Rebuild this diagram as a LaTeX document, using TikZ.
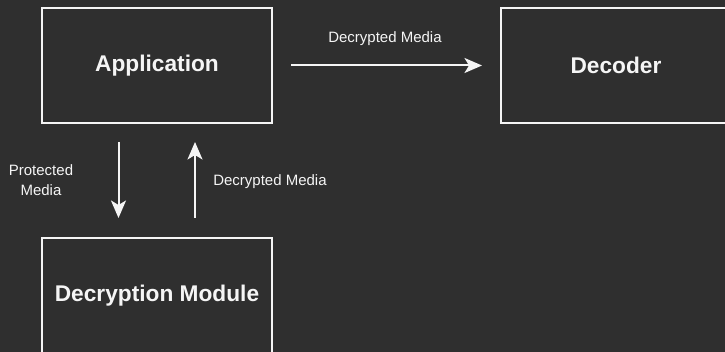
\documentclass[tikz,border=0pt]{standalone}
\usepackage{fontspec}
\setmainfont{Liberation Sans}
\usetikzlibrary{arrows.meta}
\definecolor{bgdark}{HTML}{2F2F2F}
\definecolor{fgwhite}{HTML}{F5F5F5}
\begin{document}
\begin{tikzpicture}[x=1pt,y=-1pt,inner sep=0pt,outer sep=0pt,line width=2pt,
block/.style={draw=fgwhite,rectangle,minimum width=230pt,minimum height=115pt,text=fgwhite,font=\fontsize{22.7}{27}\selectfont\bfseries},
lbl/.style={text=fgwhite,align=center,font=\fontsize{15}{19.3}\selectfont},
flow/.style={draw=fgwhite,-{Stealth[length=17.5pt,width=15pt,inset=4.5pt]}}]

\useasboundingbox (0,0) rectangle (725,352);
\fill[bgdark] (0,0) rectangle (725,352);
\clip (0,0) rectangle (725,352);

\draw (157,65.5) node[block] (app) {Application};
\draw (616,65.5) node[block] (dec) {Decoder};
\draw (157,295.5) node[block] (dmod) {Decryption Module};

\draw[flow] ([xshift=19pt]app.east) -- ([xshift=-19pt]dec.west);
\draw (385,39) node[lbl] (lbltop) {Decrypted Media};

\draw[flow] ([xshift=-38.5pt,yshift=-19pt]app.south) -- ([xshift=-38.5pt,yshift=20pt]dmod.north);
\draw (41,180) node[lbl] (lblprot) {Protected\\Media};
\draw[flow] ([xshift=38pt,yshift=20pt]dmod.north) -- ([xshift=38pt,yshift=-19pt]app.south);
\draw (270,182) node[lbl] (lbldec) {Decrypted Media};
\end{tikzpicture}
\end{document}
